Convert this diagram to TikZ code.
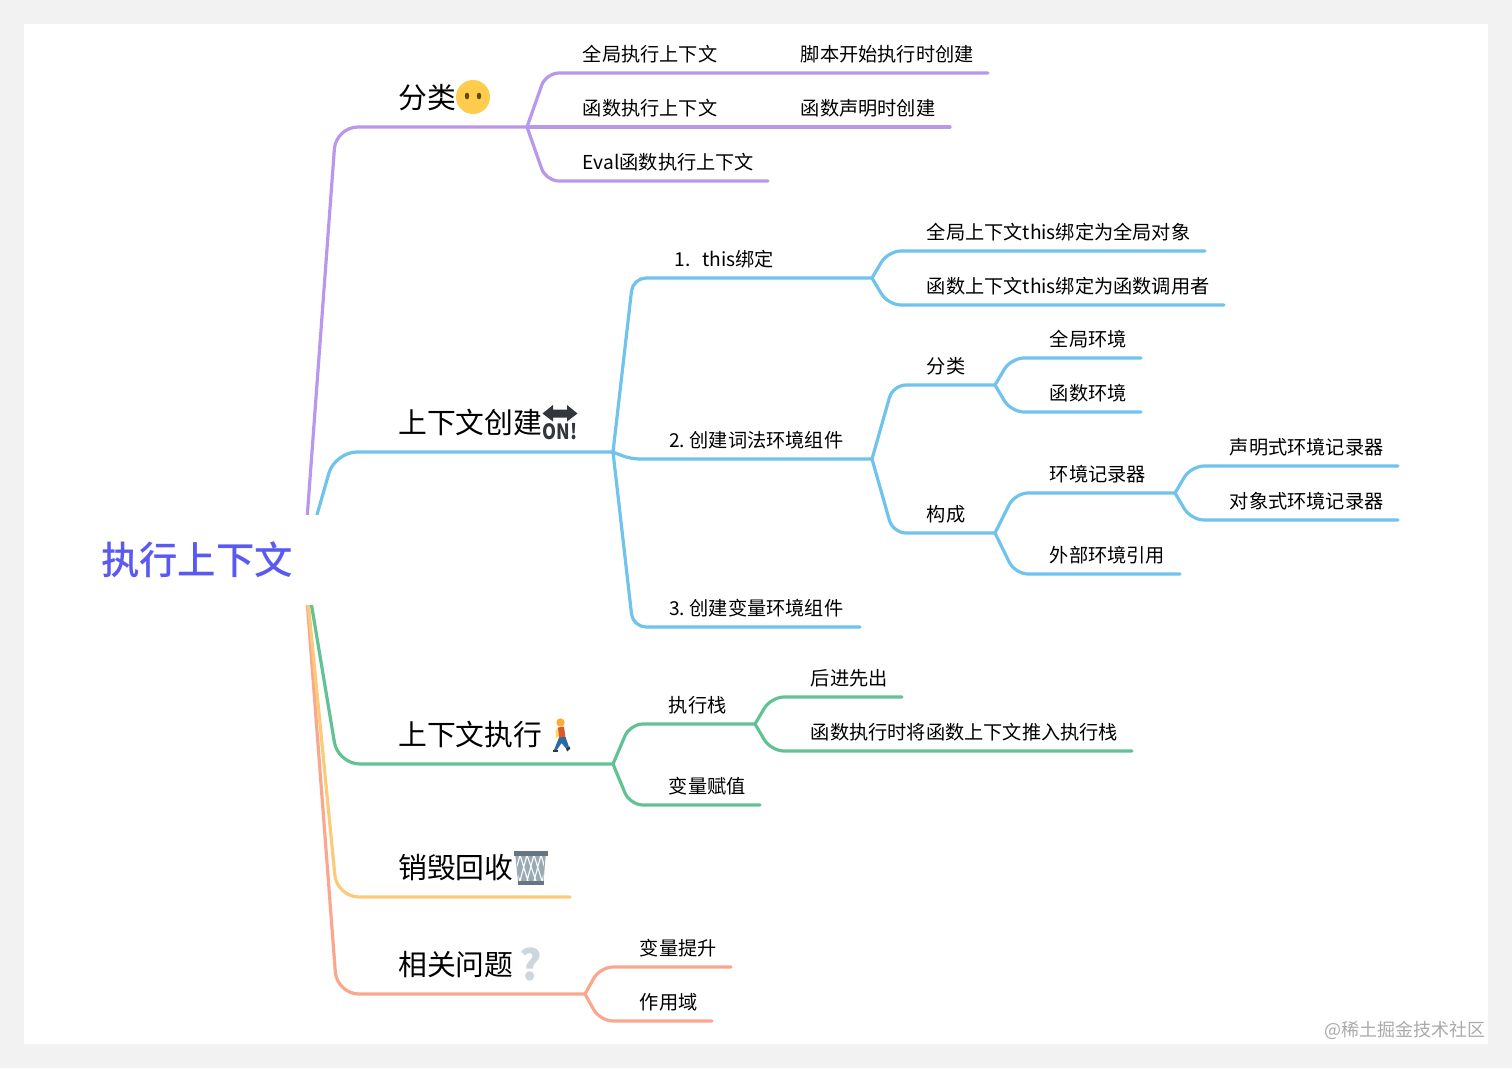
\documentclass[tikz,border=0pt]{standalone}
\usepackage{fontspec}
\setmainfont{Noto Sans CJK SC}
\newfontfamily\rootfont{Noto Sans CJK SC Medium}
\usetikzlibrary{calc}
\pgfdeclarelayer{paper}
\pgfdeclarelayer{links}
\pgfsetlayers{paper,links,main}
\definecolor{cP}{HTML}{B997EC}
\definecolor{cB}{HTML}{6FC3EC}
\definecolor{cG}{HTML}{63C293}
\definecolor{cY}{HTML}{FCCB79}
\definecolor{cS}{HTML}{FBA78E}
\definecolor{cRoot}{HTML}{5A5AF2}
\definecolor{cDark}{HTML}{31373D}
\tikzset{
  x=1pt,y=-1pt,
  link/.style={line width=3.2pt,line cap=round,line join=round},
  rootnode/.style={fill=white,inner sep=0pt,minimum width=246pt,minimum height=90pt,text=cRoot,font=\rootfont\fontsize{38.4}{46}\selectfont},
  topic/.style={anchor=base west,inner sep=0pt,yshift=-11.3pt,font=\fontsize{28.8}{34}\selectfont},
  leaf/.style={anchor=base west,inner sep=0pt,xshift=-0.4pt,yshift=-7pt,font=\fontsize{19.2}{23}\selectfont},
  glyphmark/.style={inner sep=0pt},
}
\newcommand\mainbr[5]{\coordinate (#5) at (#3,#4);\draw[link,#1,rounded corners=22pt] (rootout) -- (#2,#4) -- (#5);}
\newcommand\twig[6]{\coordinate (#6) at (#4,#3);\draw[link,#1,rounded corners=13pt] (#2) -- (#5,#3) -- (#6);}
\begin{document}
\begin{tikzpicture}
\useasboundingbox (0,0) rectangle (1512,1068);
\begin{pgfonlayer}{paper}
\fill[fill={rgb,255:red,242;green,242;blue,242}] (0,0) rectangle (1512,1068);
\fill[white] (24,24) rectangle (1488,1044);
\end{pgfonlayer}

\node[rootnode] (root) at (197,560) {执行上下文};
\coordinate (rootout) at (304,560);

% texts
\node[topic] (t1) at (398,97) {分类};
\node[leaf] (a1) at (583,54) {全局执行上下文};
\node[leaf] (a1x) at (801,54) {脚本开始执行时创建};
\node[leaf] (a2) at (583,108) {函数执行上下文};
\node[leaf] (a2x) at (801,108) {函数声明时创建};
\node[leaf] (a3) at (583,162) {Eval函数执行上下文};

\node[topic] (t2) at (398,422) {上下文创建};
\node[leaf] (b1) at (675,259) {1.\hspace{11.5pt}this绑定};
\node[leaf] (b2) at (669.5,440) {2.\hspace{4.5pt}创建词法环境组件};
\node[leaf] (b3) at (669.5,608) {3.\hspace{4.5pt}创建变量环境组件};
\node[leaf] (b11) at (927,232) {全局上下文this绑定为全局对象};
\node[leaf] (b12) at (927,286) {函数上下文this绑定为函数调用者};
\node[leaf] (b21) at (927,366) {分类};
\node[leaf] (b22) at (927,514) {构成};
\node[leaf] (b211) at (1050,339) {全局环境};
\node[leaf] (b212) at (1050,393) {函数环境};
\node[leaf] (b221) at (1050,474) {环境记录器};
\node[leaf] (b222) at (1050,555) {外部环境引用};
\node[leaf] (b2211) at (1230,447) {声明式环境记录器};
\node[leaf] (b2212) at (1230,501) {对象式环境记录器};

\node[topic] (t3) at (398,734) {上下文执行};
\node[leaf] (c1) at (669,705) {执行栈};
\node[leaf] (c2) at (669,786) {变量赋值};
\node[leaf] (c11) at (811,678) {后进先出};
\node[leaf] (c12) at (811,732) {函数执行时将函数上下文推入执行栈};

\node[topic] (t4) at (398,867) {销毁回收};

\node[topic] (t5) at (398,964) {相关问题};
\node[leaf] (e1) at (640,948) {变量提升};
\node[leaf] (e2) at (640,1002) {作用域};

\node[anchor=east,inner sep=0pt,text={rgb,255:red,170;green,170;blue,170},font=\fontsize{18}{22}\selectfont] (wm) at (1485.5,1030.5) {@稀土掘金技术社区};

% connectors
\begin{pgfonlayer}{links}
\mainbr{cP}{336}{527}{127}{jP}
\twig{cP}{jP}{73}{988}{546}{ea1}
\coordinate (ea2) at (950,127);
\draw[link,cP] (jP) -- (ea2);
\twig{cP}{jP}{181}{768}{546}{ea3}

\mainbr{cB}{335}{613}{452}{jB}
\twig{cB}{jB}{278}{872}{633}{jB1}
\coordinate (jB2) at (872,459);
\draw[link,cB] (jB) .. controls (625,457) and (630,459) .. (642,459) -- (jB2);
\twig{cB}{jB}{627}{860}{633}{eb3}
\twig{cB}{jB1}{251}{1205}{888}{eb11}
\twig{cB}{jB1}{305}{1224}{888}{eb12}
\twig{cB}{jB2}{385}{995}{893}{jB21}
\twig{cB}{jB2}{533}{995}{893}{jB22}
\twig{cB}{jB21}{358}{1141}{1011}{eb211}
\twig{cB}{jB21}{412}{1141}{1011}{eb212}
\twig{cB}{jB22}{493}{1175}{1015}{jB221}
\twig{cB}{jB22}{574}{1180}{1015}{eb222}
\twig{cB}{jB221}{466}{1398}{1191}{eb2211}
\twig{cB}{jB221}{520}{1398}{1191}{eb2212}

\mainbr{cS}{337}{585}{994}{jS}
\twig{cS}{jS}{967}{731}{600}{ee1}
\twig{cS}{jS}{1021}{712}{600}{ee2}
\mainbr{cY}{337}{570}{897}{eY}
\mainbr{cG}{338}{613}{764}{jG}
\twig{cG}{jG}{724}{755}{630}{jG1}
\twig{cG}{jG}{805}{760}{630}{ec2}
\twig{cG}{jG1}{697}{902}{771}{ec11}
\twig{cG}{jG1}{751}{1132}{771}{ec12}
\end{pgfonlayer}

% face
\fill[fill={rgb,255:red,255;green,204;blue,77}] (473,97) circle[radius=17];
\fill[fill={rgb,255:red,102;green,69;blue,0}] (467,96) ellipse[x radius=2.2,y radius=3.4];
\fill[fill={rgb,255:red,102;green,69;blue,0}] (479,96) ellipse[x radius=2.2,y radius=3.4];

% on arrow
\fill[cDark,line join=round] (542.5,413.5) -- (553,405) -- (553,409.5) -- (567,409.5) -- (567,405) -- (577.5,413.5) -- (567,421.5) -- (567,417.5) -- (553,417.5) -- (553,421.5) -- cycle;
\node[glyphmark,text=cDark,font=\bfseries\fontsize{21}{24}\selectfont,xscale=0.85,transform shape] (onmark) at (560,432) {ON!};

% walker
\fill[fill={rgb,255:red,255;green,172;blue,51}] (560.5,722.5) circle[radius=4.2];
\fill[fill={rgb,255:red,255;green,220;blue,93}] (555.5,731) -- (558,727) -- (559,736) -- (556,738.5) -- cycle;
\fill[fill={rgb,255:red,221;green,90;blue,43}] (558,727.5) -- (564,726.5) -- (565.5,737.5) -- (559,738) -- cycle;
\fill[fill={rgb,255:red,42;green,106;blue,165}] (559,737.5) -- (565.5,737) -- (569,747) -- (566.5,749) -- (561.5,743) -- (556.5,750.5) -- (554,750) -- cycle;
\fill[cDark] (553,749.5) -- (558,749.5) -- (558,752) -- (553,752) -- cycle;
\fill[cDark] (566,748.5) -- (570,746.5) -- (570,749) -- (567,751.5) -- cycle;

% bin
\fill[fill={rgb,255:red,153;green,170;blue,181}] (515,852) -- (546,852) -- (543.5,882) -- (518,882) -- cycle;
\begin{scope}
\clip (516,855) -- (545,855) -- (543,881) -- (519,881) -- cycle;
\draw[white,line width=1.1pt] (520,855) -- (528,881) (527,855) -- (536,881) (534,855) -- (542,881) (541,855) -- (546,872) (515,868) -- (520,881)
  (541,855) -- (534,881) (534,855) -- (527,881) (527,855) -- (520,881) (520,855) -- (516,870) (546,868) -- (542,881);
\end{scope}
\fill[fill={rgb,255:red,102;green,117;blue,127}] (513.5,851) rectangle (548,855.5);
\fill[fill={rgb,255:red,102;green,117;blue,127}] (518,881) rectangle (544,884.5);

% question mark
\node[glyphmark,text={rgb,255:red,204;green,214;blue,221},font=\bfseries\fontsize{42}{48}\selectfont] (qm) at (531,964) {?};
\end{tikzpicture}
\end{document}
